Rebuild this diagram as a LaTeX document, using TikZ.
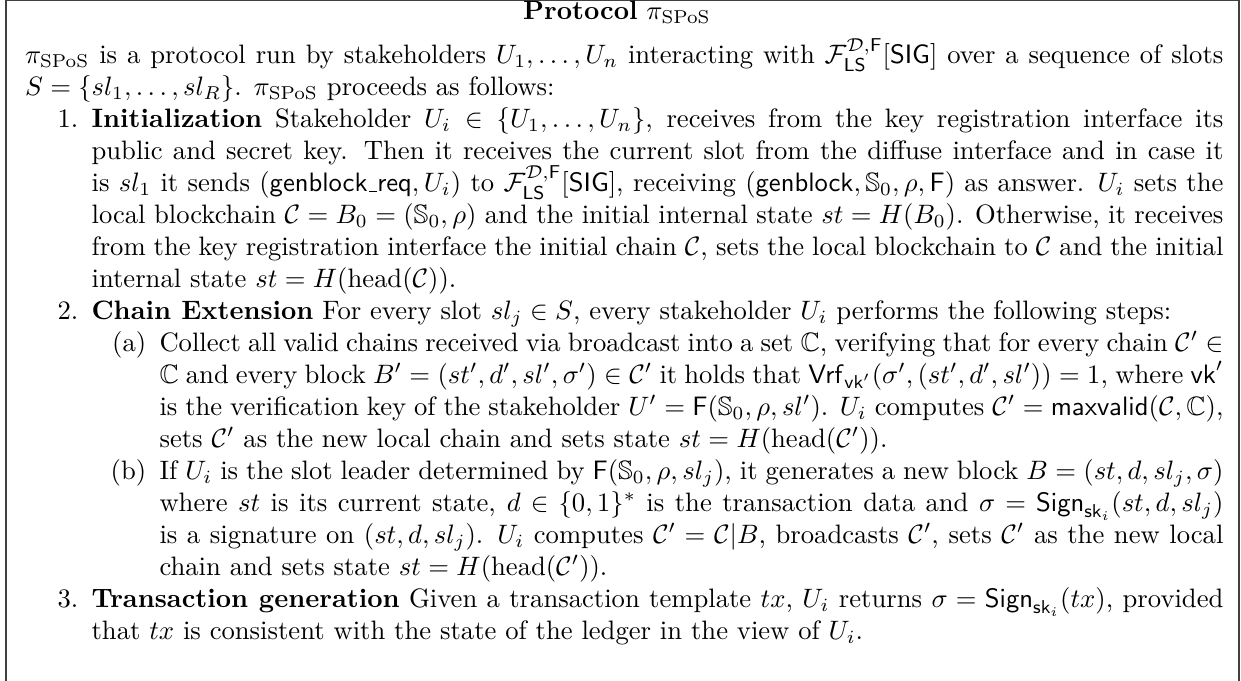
\documentclass[tikz,border=0pt]{standalone}
\usepackage{amsmath,amssymb}
\usepackage{enumitem}
\usetikzlibrary{positioning}

\newcommand{\spos}{\pi_{\mathrm{SPoS}}}
\newcommand{\FLS}{\mathcal{F}_{\mathsf{LS}}^{\mathcal{D},\mathsf{F}}[\mathsf{SIG}]}
\newcommand{\Sig}[1]{\mathsf{Sign}_{\mathsf{sk}_i}(#1)}
\newcommand{\uscore}{\kern.06em\vbox{\hrule width .3em}}

\begin{document}
\begin{tikzpicture}[x=1pt,y=1pt]
    \tikzstyle{heading} = [inner sep=0pt,anchor=base]
    \tikzstyle{textblock} = [inner sep=0pt,anchor=base west,text width=450pt,align=justify]
    \tikzstyle{frame} = [line width=0.7pt,black!75]

    \useasboundingbox (0,0) rectangle (466.0,255.7);
    \draw [frame] (2.1,-2) -- (2.1,255.5) -- (465.1,255.5) -- (465.1,-2);

    \node (title) [heading] at (231.7,248.2) {\textbf{Protocol} $\spos$};

    \node (body) [textblock] at (9.2,231.7) {%
    $\spos$ is a protocol run by stakeholders $U_1,\dots,U_n$ interacting with $\FLS$ over a sequence of slots $S=\{sl_1,\dots,sl_R\}$. $\spos$ proceeds as follows:
    \begin{enumerate}[nosep]
        \item \textbf{Initialization} Stakeholder $U_i \in \{U_1,\dots,U_n\}$, receives from the key registration interface its public and secret key. Then it receives the current slot from the diffuse interface and in case it is $sl_1$ it sends $(\mathsf{genblock\uscore req},U_i)$ to $\FLS$, receiving $(\mathsf{genblock},\mathbb{S}_0,\rho,\mathsf{F})$ as answer. $U_i$ sets the local blockchain $\mathcal{C}=B_0=(\mathbb{S}_0,\rho)$ and the initial internal state $st=H(B_0)$. Otherwise, it receives from the key registration interface the initial chain $\mathcal{C}$, sets the local blockchain to $\mathcal{C}$ and the initial internal state $st=H(\mathrm{head}(\mathcal{C}))$.
        \item \textbf{Chain Extension} For every slot $sl_j\in S$, every stakeholder $U_i$ performs the following steps:
        \begin{enumerate}[nosep,leftmargin=25.5pt]
            \item Collect all valid chains received via broadcast into a set $\mathbb{C}$, verifying that for every chain $\mathcal{C}'\in\mathbb{C}$ and every block $B'=(st',d',sl',\sigma')\in\mathcal{C}'$ it holds that $\mathsf{Vrf}_{\mathsf{vk}'}(\sigma',(st',d',sl'))=1$, where $\mathsf{vk}'$ is the verification key of the stakeholder $U'=\mathsf{F}(\mathbb{S}_0,\rho,sl')$. $U_i$ computes $\mathcal{C}'=\mathsf{maxvalid}(\mathcal{C},\mathbb{C})$, sets $\mathcal{C}'$ as the new local chain and sets state $st=H(\mathrm{head}(\mathcal{C}'))$.
            \item If $U_i$ is the slot leader determined by $\mathsf{F}(\mathbb{S}_0,\rho,sl_j)$, it generates a new block $B=(st,d,sl_j,\sigma)$ where $st$ is its current state, $d\in\{0,1\}^*$ is the transaction data and $\sigma=\Sig{st,d,sl_j}$ is a signature on $(st,d,sl_j)$. $U_i$ computes $\mathcal{C}'=\mathcal{C}|B$, broadcasts $\mathcal{C}'$, sets $\mathcal{C}'$ as the new local chain and sets state $st=H(\mathrm{head}(\mathcal{C}'))$.
        \end{enumerate}
        \item \textbf{Transaction generation} Given a transaction template $tx$, $U_i$ returns $\sigma=\Sig{tx}$, provided that $tx$ is consistent with the state of the ledger in the view of $U_i$.
    \end{enumerate}};
\end{tikzpicture}
\end{document}
